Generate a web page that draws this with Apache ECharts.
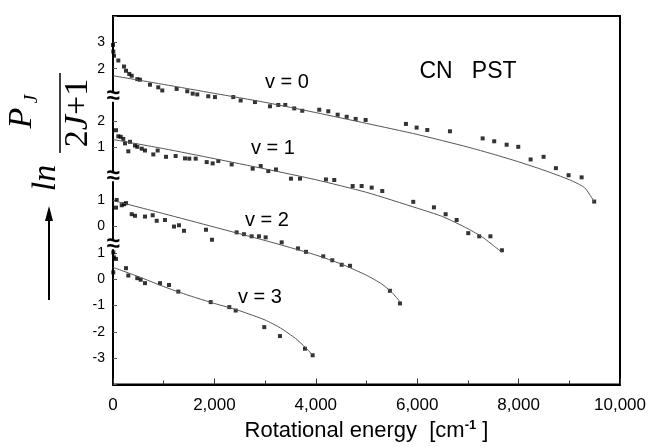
<!DOCTYPE html>
<html lang="en">
<head>
<meta charset="UTF-8">
<title>CN PST - rotational distributions</title>
<script src="https://cdn.jsdelivr.net/npm/echarts@6/dist/echarts.min.js"></script>
<style>
  *{ margin:0; }
  html,body{ background:#fff; }
  #chart{ width:650px; height:447px; }
</style>
</head>
<body>
<div id="chart"></div>
<script>
// measured points, energy in cm-1 and ln(P_J/(2J+1)) for each v
const e0 = [0, 6, 20, 105, 217, 256, 321, 369, 479, 532, 730, 893, 972, 1256, 1465, 1572, 1662, 1879, 2011, 2372, 2518, 2800, 3096, 3260, 3398, 3575, 3733, 4068, 4246, 4431, 4609, 4786, 4983, 5778, 5989, 6199, 6646, 7291, 7519, 7764, 7993, 8237, 8493, 8736, 8986, 9243, 9491];
const p0 = [2.90, 2.65, 2.49, 2.31, 2.08, 1.92, 1.80, 1.73, 1.60, 1.58, 1.39, 1.29, 1.17, 1.23, 1.14, 1.05, 1.02, 0.95, 0.92, 0.92, 0.79, 0.73, 0.57, 0.62, 0.62, 0.49, 0.40, 0.44, 0.38, 0.25, 0.17, 0.09, 0.05, -0.10, -0.24, -0.33, -0.38, -0.65, -0.76, -0.89, -0.97, -1.45, -1.35, -1.78, -2.05, -2.13, -3.05];

const e1 = [59, 105, 152, 203, 237, 335, 302, 434, 479, 566, 631, 795, 881, 1045, 1236, 1420, 1505, 1631, 1848, 1966, 2077, 2341, 2755, 2913, 3063, 3214, 3510, 3688, 4200, 4364, 4727, 4904, 5102, 5311, 5922, 6330, 6561, 6778, 7007, 7223, 7444, 7671];
const p1 = [1.66, 1.43, 1.41, 1.33, 1.16, 1.22, 0.86, 1.08, 1.03, 0.96, 0.89, 0.74, 0.89, 0.65, 0.68, 0.59, 0.58, 0.58, 0.45, 0.40, 0.49, 0.36, 0.20, 0.30, 0.11, 0.17, -0.18, -0.18, -0.21, -0.23, -0.46, -0.46, -0.52, -0.65, -1.06, -1.27, -1.53, -1.75, -2.25, -2.37, -2.37, -2.90];

const e2 = [73, 59, 172, 217, 256, 369, 434, 631, 783, 862, 1025, 1203, 1302, 1400, 1834, 1952, 2439, 2583, 2735, 2879, 3011, 3327, 3648, 3806, 4147, 4325, 4510, 4674, 5462, 5660];
const p2 = [1.01, 0.72, 0.81, 0.85, 0.89, 0.47, 0.41, 0.38, 0.43, 0.22, 0.25, 0.00, 0.05, -0.16, -0.12, -0.50, -0.22, -0.29, -0.37, -0.37, -0.41, -0.60, -0.83, -0.96, -1.13, -1.28, -1.45, -1.49, -2.44, -2.92];

const e3 = [6, 20, 59, 6, 256, 302, 479, 546, 631, 927, 1104, 1288, 1927, 2294, 2420, 2984, 3293, 3786, 3938];
const p3 = [1.02, 0.83, 0.77, 0.26, 0.42, 0.14, 0.04, -0.02, -0.15, -0.15, -0.22, -0.47, -0.87, -1.06, -1.19, -1.82, -2.16, -2.64, -2.89];

// PST curves
const fitE0 = [0, 1000, 2000, 3000, 4000, 5000, 6000, 7000, 7500, 8000, 8500, 9000, 9300, 9491];
const fitP0 = [1.73, 1.40, 1.06, 0.72, 0.33, -0.08, -0.50, -0.98, -1.25, -1.54, -1.86, -2.22, -2.52, -3.05];
const fitE1 = [0, 1000, 2000, 3000, 4000, 5000, 6000, 6500, 7000, 7300, 7500, 7671];
const fitP1 = [1.31, 0.96, 0.58, 0.19, -0.22, -0.70, -1.30, -1.62, -2.08, -2.42, -2.72, -2.97];
const fitE2 = [0, 1000, 2000, 3000, 3500, 4000, 4500, 5000, 5300, 5500, 5660];
const fitP2 = [0.99, 0.49, -0.02, -0.53, -0.80, -1.08, -1.42, -1.85, -2.18, -2.50, -2.85];
const fitE3 = [0, 500, 1000, 1500, 2000, 2500, 3000, 3300, 3600, 3800, 3938];
const fitP3 = [0.45, 0.10, -0.28, -0.62, -0.92, -1.20, -1.55, -1.85, -2.25, -2.60, -2.89];

// each panel is shifted up on the shared axis
const offsets = [6, 4, 2, 0];
const panelLabels = ['v = 0', 'v = 1', 'v = 2', 'v = 3'];
// where the axis is broken (shared axis units)
const breaksAt = [6.93, 3.91, 1.33];

const pts = [[e0, p0], [e1, p1], [e2, p2], [e3, p3]];
const fits = [[fitE0, fitP0], [fitE1, fitP1], [fitE2, fitP2], [fitE3, fitP3]];

function pairs(xs, ys, off) {
    return xs.map((x, i) => [x, ys[i] + off]);
}

// tick label of the shared axis -> value inside its own panel
function yLabel(v) {
    if (v >= 8 && v <= 9) return String(v - 6);
    if (v >= 5 && v <= 6) return String(v - 4);
    if (v >= 2 && v <= 3) return String(v - 2);
    if (v >= -3 && v <= 1) return String(v);
    return '';
}

function commas(v) {
    return String(v).replace(/\B(?=(\d{3})+(?!\d))/g, ',');
}

const series = [];
fits.forEach((f, i) => {
    series.push({
        type: 'line',
        data: pairs(f[0], f[1], offsets[i]),
        smooth: 0.2,
        symbol: 'none',
        lineStyle: { color: '#555', width: 1 },
        silent: true
    });
});
pts.forEach((p, i) => {
    series.push({
        type: 'scatter',
        data: pairs(p[0], p[1], offsets[i]),
        symbol: 'rect',
        symbolSize: 4,
        itemStyle: { color: '#000' }
    });
});

const sans = 'Liberation Sans, Arial, sans-serif';
const serif = 'Liberation Serif, Times New Roman, serif';

let chart = echarts.init(document.getElementById('chart'));
chart.setOption({
    animation: false,
    backgroundColor: '#fff',
    grid: { left: 113, right: 30, top: 16, bottom: 61, show: true, borderColor: '#000', borderWidth: 2 },
    xAxis: {
        type: 'value', min: 0, max: 10000, interval: 2000,
        axisLine: { onZero: false, lineStyle: { color: '#000', width: 2 } },
        axisTick: { inside: true, length: 6, lineStyle: { color: '#333' } },
        minorTick: { show: true, splitNumber: 2, length: 4, lineStyle: { color: '#333' } },
        splitLine: { show: false },
        axisLabel: { formatter: commas, color: '#000', fontSize: 17, fontFamily: sans, margin: 12 },
        name: '{n|Rotational energy  [cm}{s|-1}{n| ]}',
        nameLocation: 'middle',
        nameGap: 34,
        nameTextStyle: {
            rich: {
                n: { fontSize: 22, fontFamily: sans, color: '#000' },
                s: { fontSize: 13, fontWeight: 'bold', fontFamily: sans, color: '#000', padding: [0, 0, 12, 0] }
            }
        }
    },
    yAxis: {
        type: 'value', min: -4, max: 10, interval: 1,
        axisLine: { show: true, onZero: false, lineStyle: { color: '#000', width: 2 } },
        axisTick: { inside: true, length: 4, lineStyle: { color: '#555' } },
        splitLine: { show: false },
        axisLabel: { formatter: yLabel, color: '#000', fontSize: 14, fontFamily: sans, margin: 8 }
    },
    series: series
});

// axis breaks, panel labels and the y axis title
const graphics = [];
breaksAt.forEach(b => {
    const py = chart.convertToPixel({ yAxisIndex: 0 }, b);
    const px = chart.convertToPixel({ xAxisIndex: 0 }, 0);
    graphics.push({ type: 'rect', shape: { x: px - 6, y: py - 5, width: 12, height: 10 }, style: { fill: '#fff' }, z: 100 });
    graphics.push({ type: 'text', x: px, y: py, z: 101,
        style: { text: '≈', font: 'bold 24px ' + sans, fill: '#000', textAlign: 'center', textVerticalAlign: 'middle' } });
});

const labelPos = [[287, 82], [273, 148], [267, 220], [260, 297]];
panelLabels.forEach((t, i) => {
    graphics.push({ type: 'text', x: labelPos[i][0], y: labelPos[i][1],
        style: { text: t, font: '20px ' + sans, fill: '#000', textAlign: 'center', textVerticalAlign: 'middle' } });
});
graphics.push({ type: 'text', x: 468, y: 72,
    style: { text: 'CN   PST', font: '23px ' + sans, fill: '#000', textAlign: 'center', textVerticalAlign: 'middle' } });

const up = Math.PI / 2;
graphics.push({ type: 'text', x: 46, y: 178, rotation: up,
    style: { text: 'ln', font: 'italic 34px ' + serif, fill: '#000', textAlign: 'center', textVerticalAlign: 'middle' } });
graphics.push({ type: 'text', x: 22, y: 118, rotation: up,
    style: { text: 'P', font: 'italic 34px ' + serif, fill: '#000', textAlign: 'center', textVerticalAlign: 'middle' } });
graphics.push({ type: 'text', x: 32, y: 99, rotation: up,
    style: { text: 'J', font: 'italic 19px ' + serif, fill: '#000', textAlign: 'center', textVerticalAlign: 'middle' } });
graphics.push({ type: 'line', shape: { x1: 60, y1: 73, x2: 60, y2: 153 }, style: { stroke: '#000', lineWidth: 1.5 } });
graphics.push({ type: 'text', x: 78, y: 113, rotation: up,
    style: {
        text: '{a|2}{b|J}{a|+1}', fill: '#000', textAlign: 'center', textVerticalAlign: 'middle',
        rich: { a: { font: '34px ' + serif }, b: { font: 'italic 34px ' + serif } }
    } });
graphics.push({ type: 'line', shape: { x1: 49, y1: 300, x2: 49, y2: 218 }, style: { stroke: '#000', lineWidth: 2 } });
graphics.push({ type: 'polygon', shape: { points: [[49, 206], [45, 221], [53, 221]] }, style: { fill: '#000' } });

chart.setOption({ graphic: graphics });
</script>
</body>
</html>
